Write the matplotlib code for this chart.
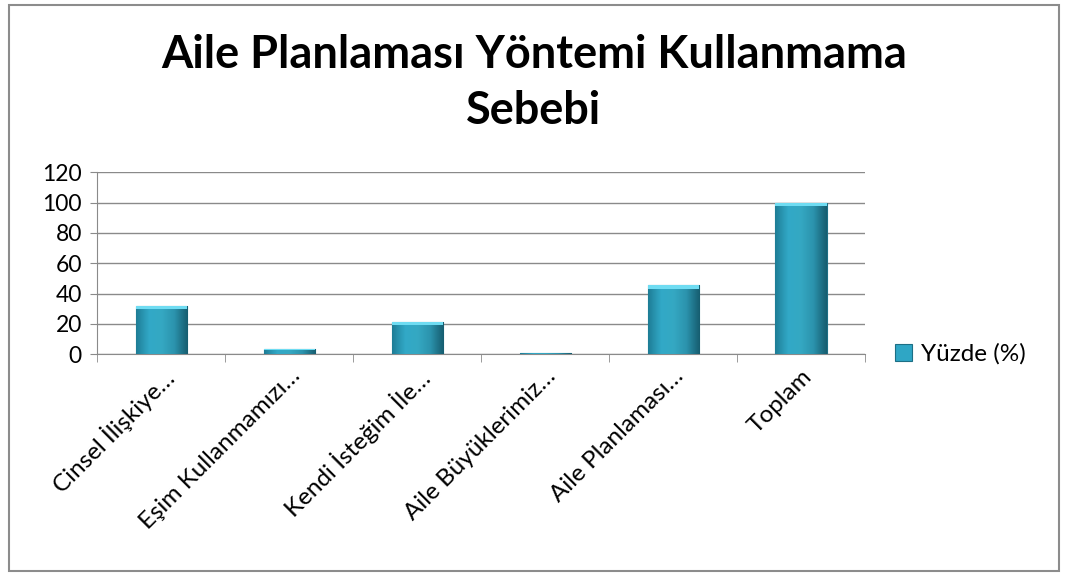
import numpy as np
import matplotlib.pyplot as plt
from matplotlib.patches import Rectangle
from matplotlib.colors import LinearSegmentedColormap

categories = ['Cinsel İlişkiye…', 'Eşim Kullanmamızı…', 'Kendi İsteğim İle…',
              'Aile Büyüklerimiz…', 'Aile Planlaması…', 'Toplam']
yuzde = [32.1, 3.3, 21.1, 1.1, 45.6, 100]
series_name = 'Yüzde (%)'

plt.rcParams['font.family'] = ['Lato', 'DejaVu Sans']

fig = plt.figure(figsize=(10.68, 5.76), dpi=100)
fig.patches.append(Rectangle((0.008, 0.008), 0.984, 0.984, transform=fig.transFigure,
                             fill=False, edgecolor='#8c8c8c', linewidth=1.5))

ax = fig.add_axes([0.091, 0.385, 0.719, 0.316])
x = np.arange(len(categories))
bars = ax.bar(x, yuzde, width=0.4, color='#2fa6c5', edgecolor='#1d6f85',
              linewidth=0.8, label=series_name, zorder=3)

# bevel-like shading inside each bar
cmap = LinearSegmentedColormap.from_list('bev', ['#1e7d96', '#35b4d4', '#3cc0de', '#35b4d4', '#1e7d96'])
grad = np.tile(np.linspace(0, 1, 64), (64, 1))
vert = np.linspace(1.0, 0.75, 64)[:, None]
rgb = cmap(grad)[..., :3] * vert
for b in bars:
    x0, y0 = b.get_x(), b.get_y()
    w, h = b.get_width(), b.get_height()
    im = ax.imshow(rgb, extent=(x0, x0 + w, y0, y0 + h), aspect='auto', zorder=3.5,
                   origin='upper', interpolation='bilinear')
    im.set_clip_path(b)
    cap = min(h * 0.1, 2.5)
    ax.add_patch(Rectangle((x0, y0 + h - cap), w, cap, color='#6fdcf2', zorder=3.6, linewidth=0))

ax.set_xlim(-0.5, len(categories) - 0.5)
ax.set_ylim(0, 120)
ax.set_yticks(range(0, 121, 20))
ax.yaxis.grid(True, color='#8a8a8a', linewidth=1, zorder=0)
ax.tick_params(axis='y', labelsize=16.5, length=5, color='#8a8a8a', pad=6)

ax.set_xticks(x)
ax.set_xticklabels(categories, rotation=45, ha='right', rotation_mode='anchor', fontsize=17.5)
ax.tick_params(axis='x', length=0, pad=8)
ax.set_xticks(np.arange(-0.5, len(categories)), minor=True)
ax.tick_params(axis='x', which='minor', length=6, color='#8a8a8a')

for s in ['top', 'right']:
    ax.spines[s].set_visible(False)
ax.spines['left'].set_color('#8a8a8a')
ax.spines['bottom'].set_color('#8a8a8a')

fig.text(0.5, 0.856, 'Aile Planlaması Yöntemi Kullanmama\nSebebi', ha='center', va='center',
         fontsize=32.5, fontweight='bold', linespacing=1.4)

ax.legend(loc='center left', bbox_to_anchor=(1.01, 0.0), frameon=False, fontsize=17.5,
          handlelength=0.7, handleheight=0.7, handletextpad=0.4)

fig.savefig('out.png', dpi=100)
